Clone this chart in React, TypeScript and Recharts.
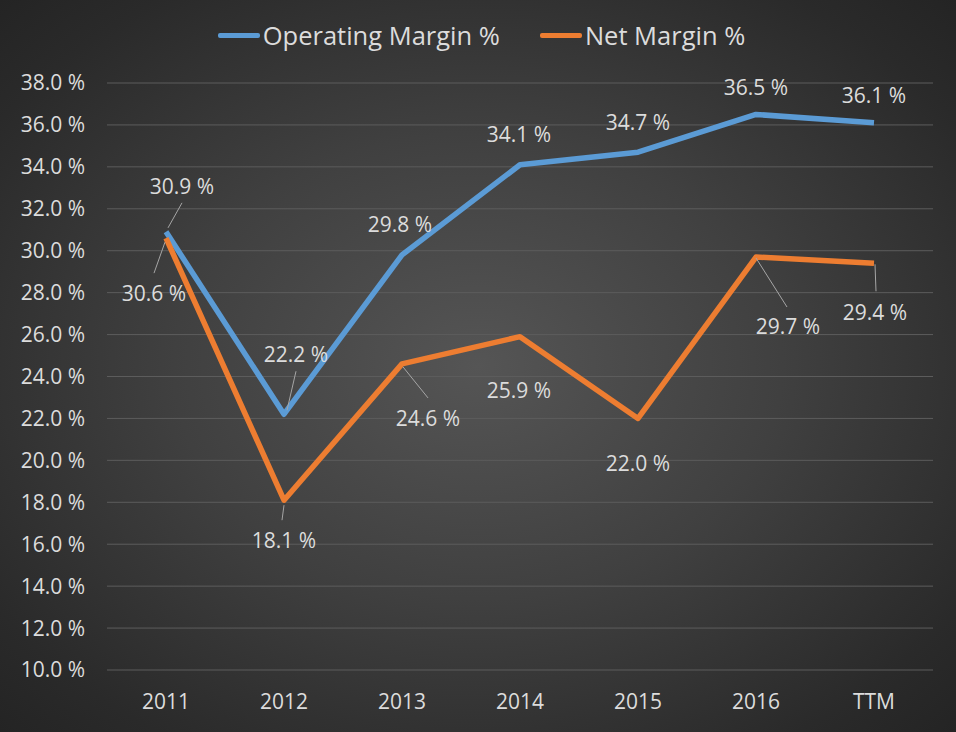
import { CartesianGrid, LabelList, Legend, Line, LineChart, XAxis, YAxis } from "recharts";

const periods = ["2011", "2012", "2013", "2014", "2015", "2016", "TTM"];
const operatingMargin = [30.9, 22.2, 29.8, 34.1, 34.7, 36.5, 36.1];
const netMargin = [30.6, 18.1, 24.6, 25.9, 22.0, 29.7, 29.4];
const yTicks = [10, 12, 14, 16, 18, 20, 22, 24, 26, 28, 30, 32, 34, 36, 38];

// label placement relative to the point: [dx, dy, leader line or null]
const opLabelPos: [number, number, number[] | null][] = [
  [16, -46, [2, -4, 16, -29]],
  [12, -60, [3, -4, 12, -43]],
  [-2, -31, null],
  [-1, -31, null],
  [0, -30, null],
  [0, -27, null],
  [0, -28, null],
];
const netLabelPos: [number, number, number[] | null][] = [
  [-12, 55, [-1, 4, -12, 35]],
  [0, 40, [0, 5, -2, 20]],
  [26, 54, [1, 3, 26, 34]],
  [-1, 53, null],
  [0, 45, null],
  [32, 69, [0, 1, 31, 50]],
  [1, 49, [1, 1, 2, 28]],
];

const data = periods.map((p, i) => ({
  period: p,
  operating: operatingMargin[i],
  net: netMargin[i],
}));

const FONT = "'Open Sans', 'Noto Sans', sans-serif";
const TEXT = "#dcdcdc";
const FS = 21;

const makeLabel = (pos: [number, number, number[] | null][]) => (props: any) => {
  const { x, y, value, index } = props;
  const [dx, dy, leader] = pos[index];
  return (
    <g>
      {leader && (
        <line
          x1={x + leader[0]}
          y1={y + leader[1]}
          x2={x + leader[2]}
          y2={y + leader[3]}
          stroke="#a6a6a6"
          strokeWidth={1}
        />
      )}
      <text
        x={x + dx}
        y={y + dy}
        textAnchor="middle"
        dominantBaseline="central"
        fill={TEXT}
        fontSize={FS}
        fontFamily={FONT}
      >
        {value.toFixed(1) + " %"}
      </text>
    </g>
  );
};

const renderLegend = () => (
  <div
    style={{
      height: 50,
      display: "flex",
      justifyContent: "center",
      alignItems: "flex-start",
      paddingLeft: 30,
      fontFamily: FONT,
      fontSize: 25.5,
      color: TEXT,
    }}
  >
    {[
      { name: "Operating Margin %", color: "#5B9BD5" },
      { name: "Net Margin %", color: "#ED7D31" },
    ].map((item, i) => (
      <div
        key={item.name}
        style={{ display: "flex", alignItems: "center", marginLeft: i ? 40 : 0, lineHeight: "32px" }}
      >
        <span
          style={{
            display: "inline-block",
            width: 42,
            height: 5,
            borderRadius: 2,
            background: item.color,
            marginRight: 3,
          }}
        />
        {item.name}
      </div>
    ))}
  </div>
);

export default function App() {
  return (
    <div
      style={{
        position: "absolute",
        left: 0,
        top: 0,
        width: 956,
        height: 732,
        background: "radial-gradient(ellipse at 50% 50%, #555555 0%, #404040 45%, #2a2a2a 85%, #242424 100%)",
      }}
    >
      <LineChart
        width={956}
        height={732}
        data={data}
        margin={{ top: 33, right: 23, bottom: 0, left: 0 }}
      >
        <CartesianGrid vertical={false} stroke="#5c5c5c" strokeWidth={1} />
        <XAxis
          dataKey="period"
          axisLine={false}
          tickLine={false}
          tickSize={0}
          tickMargin={24}
          height={62}
          padding={{ left: 59, right: 59 }}
          tick={{ fill: TEXT, fontSize: FS, fontFamily: FONT }}
        />
        <YAxis
          domain={[10, 38]}
          ticks={yTicks}
          interval={0}
          axisLine={false}
          tickLine={false}
          tickSize={0}
          tickMargin={22}
          width={107}
          tickFormatter={(v: number) => v.toFixed(1) + " %"}
          tick={{ fill: TEXT, fontSize: FS, fontFamily: FONT }}
        />
        <Legend verticalAlign="top" content={renderLegend} wrapperStyle={{ top: 19 }} />
        <Line
          dataKey="operating"
          name="Operating Margin %"
          stroke="#5B9BD5"
          strokeWidth={5.5}
          strokeLinejoin="round"
          dot={false}
          isAnimationActive={false}
        >
          <LabelList dataKey="operating" content={makeLabel(opLabelPos)} />
        </Line>
        <Line
          dataKey="net"
          name="Net Margin %"
          stroke="#ED7D31"
          strokeWidth={5.5}
          strokeLinejoin="round"
          dot={false}
          isAnimationActive={false}
        >
          <LabelList dataKey="net" content={makeLabel(netLabelPos)} />
        </Line>
      </LineChart>
    </div>
  );
}
